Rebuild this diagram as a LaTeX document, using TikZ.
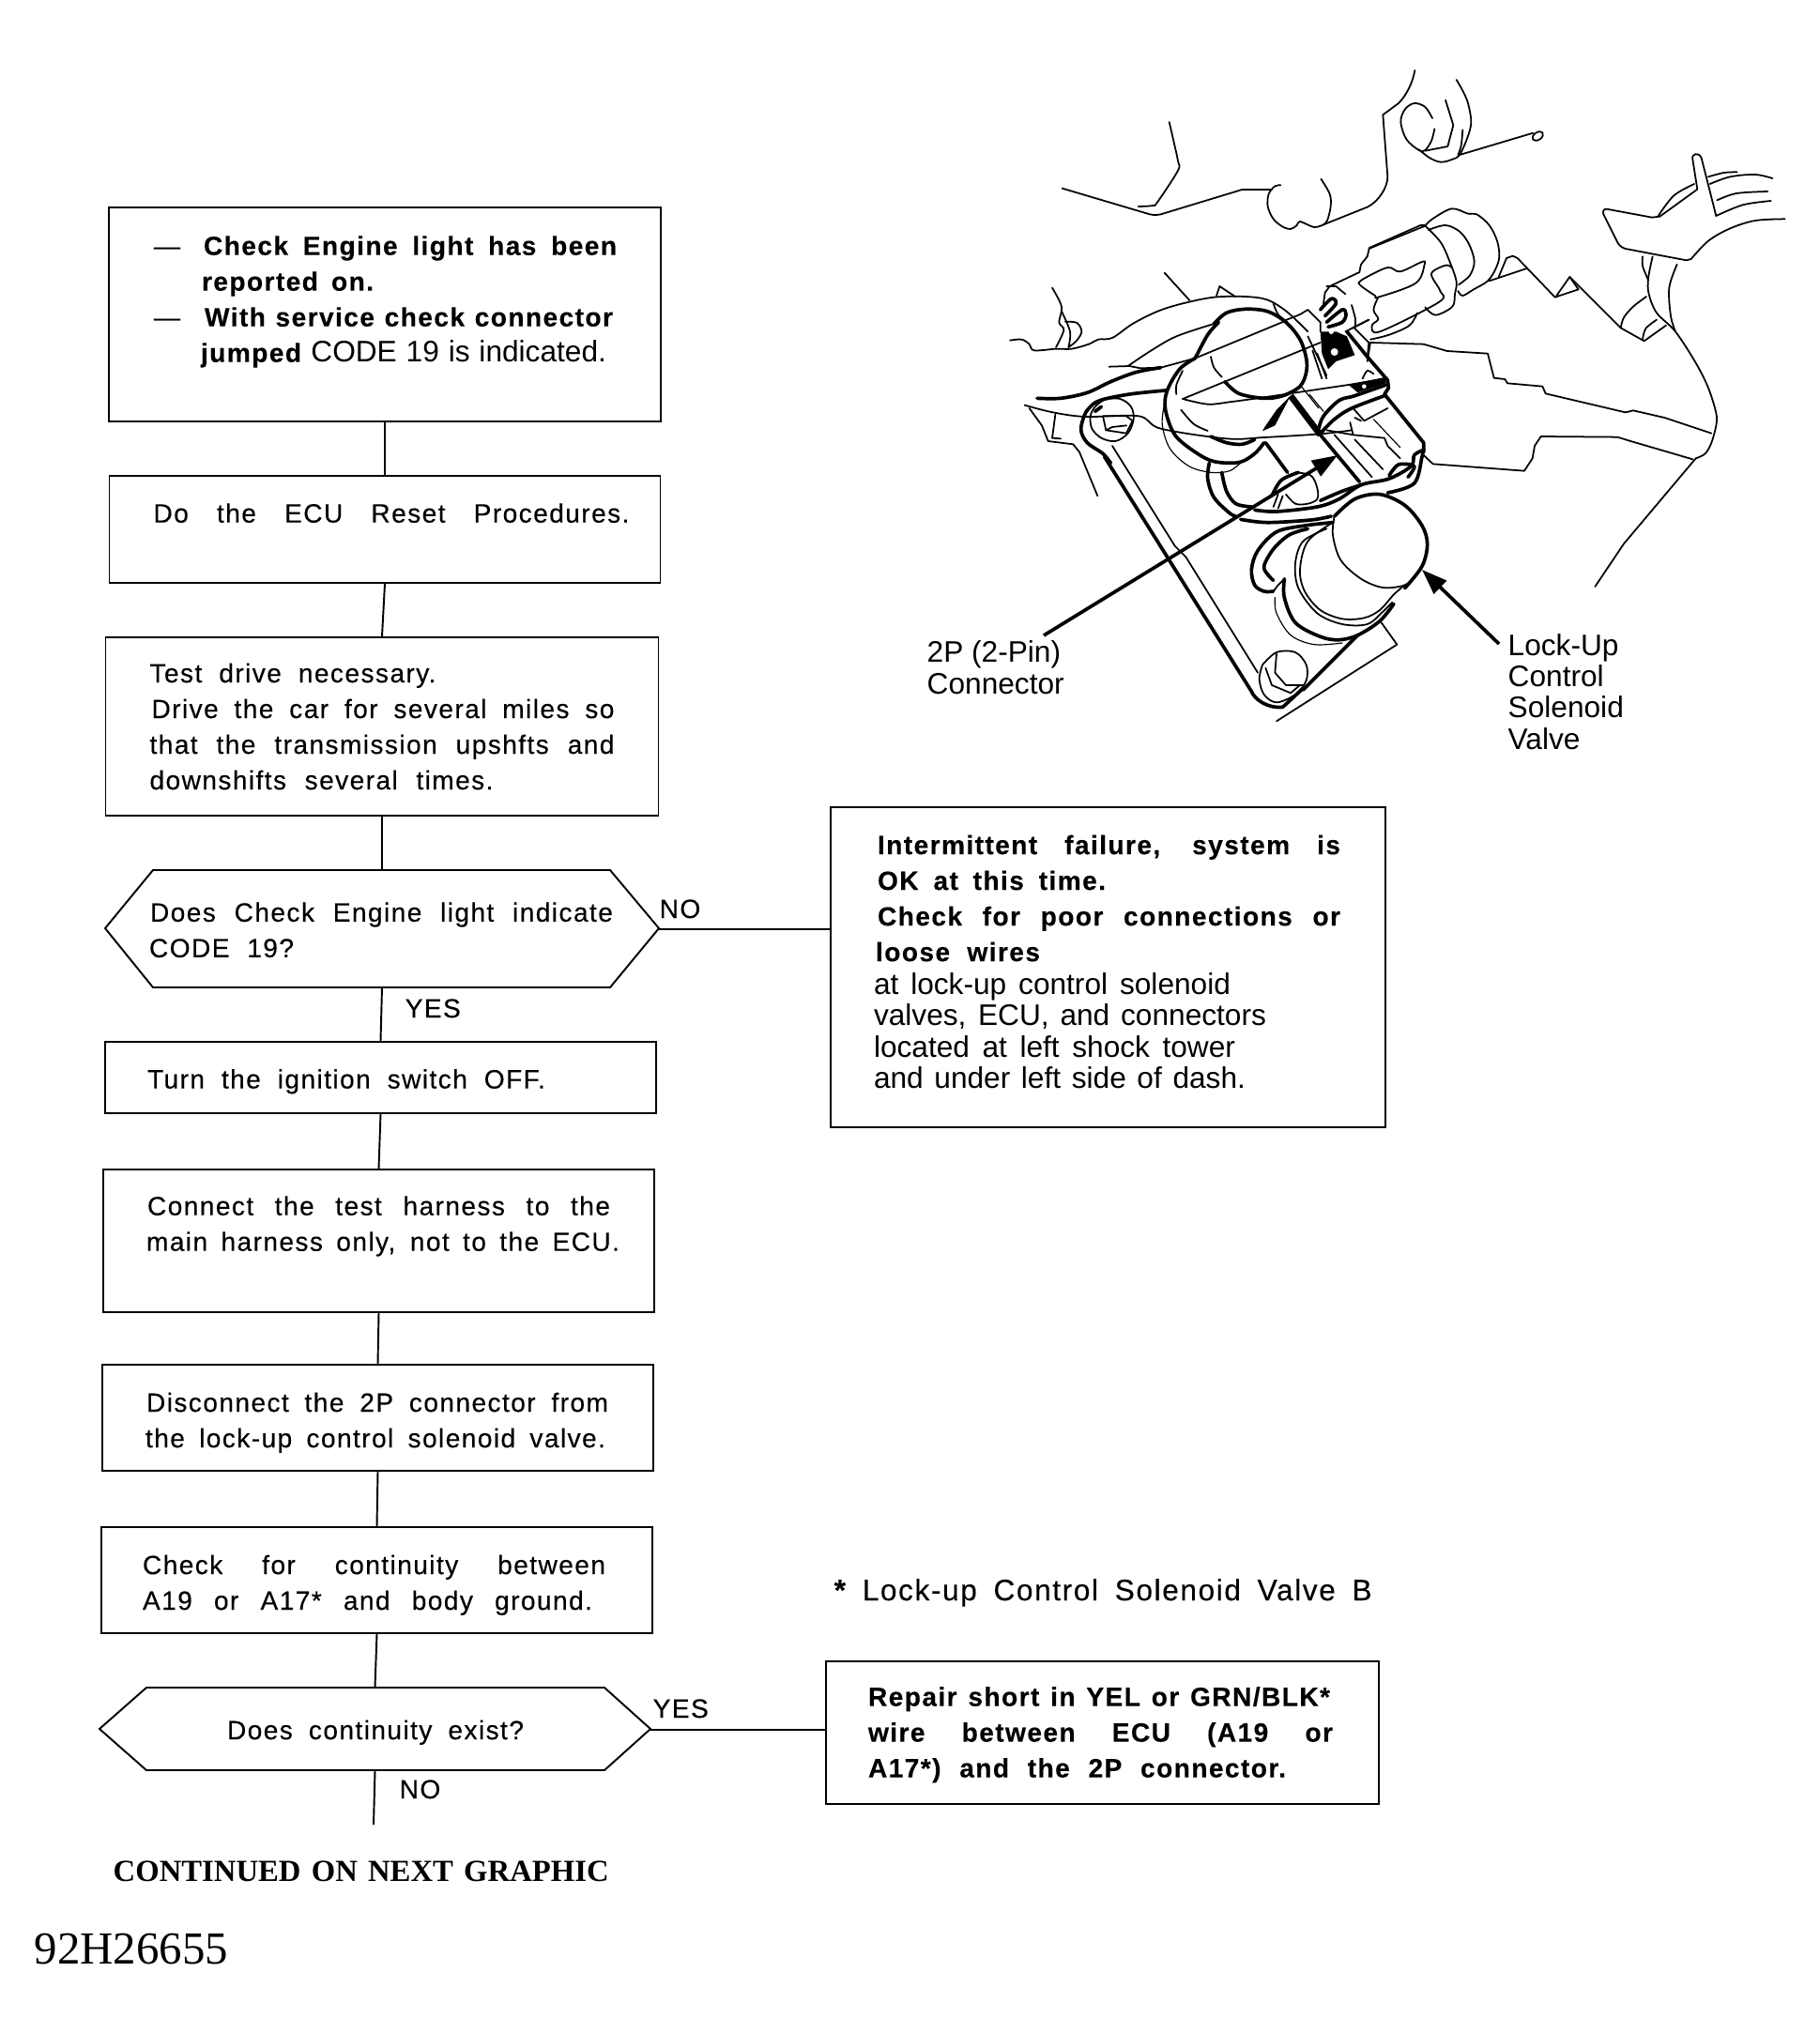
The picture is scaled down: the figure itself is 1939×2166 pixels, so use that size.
\documentclass[tikz,border=0pt]{standalone}
\usepackage{fontspec}
\usetikzlibrary{arrows.meta}
\setmainfont{Liberation Sans}[LetterSpace=5,FakeBold=0.25]
\newfontfamily\labfont{Liberation Sans}
\newfontfamily\serifbf{Liberation Serif}
\newlength\pxu \setlength\pxu{0.01cm}
\newcommand\tl[3]{\hspace*{#1\pxu}\makebox[#2\pxu][s]{\spaceskip=0pt\xspaceskip=0pt #3}}
\newcommand\botpad[1]{\rule[-\dimexpr 6\pxu+#1\pxu\relax]{0pt}{\dimexpr 6\pxu+#1\pxu\relax}}
\newcommand\toppad[1]{\rule{0pt}{\dimexpr 20\pxu+#1\pxu\relax}}
\newcommand\crv[2][medl]{\draw[#1] plot[smooth,tension=.55] coordinates {#2};}
\tikzset{
  flowfont/.style={font=\fontsize{8}{38\pxu}\selectfont},
  bx/.style 2 args={minimum width=#1\pxu,text width=#1\pxu,minimum height=#2\pxu},
  flowbox/.style={draw,line width=.55pt,inner sep=0pt,align=left,flowfont},
  hexbox/.style={inner sep=0pt,align=left,flowfont},
  hexline/.style={line width=.55pt,line join=miter},
  conn/.style={line width=.55pt},
  flag/.style={inner sep=0pt,anchor=base west,flowfont},
  callout/.style={inner sep=0pt,anchor=base west,align=left,font=\labfont\fontsize{9}{33.3\pxu}\selectfont},
  leader/.style={line width=1.05pt,-{Triangle[length=7.7pt,width=5.4pt]}},
  thinl/.style={line width=.33pt,line cap=round,line join=round},
  medl/.style={line width=.5pt,line cap=round,line join=round},
  heavy/.style={line width=1.05pt,line cap=round,line join=round},
}
\begin{document}
\begin{tikzpicture}[x=0.01cm,y=-0.01cm]
\useasboundingbox (0,0) rectangle (1939,2166);

% ---------- flow boxes
\node[flowbox,bx={588}{228}] (b1) at (410,335) {%
\tl{48}{28}{—}\tl{25}{440}{\bfseries Check Engine light has been}\\
\tl{99}{183}{\bfseries reported on.}\\
\tl{48}{28}{—}\tl{26}{435}{\bfseries With service check connector}\\
\tl{98}{432}{\bfseries jumped {\labfont\mdseries\fontsize{9}{38\pxu}\selectfont CODE 19 is indicated.}}\botpad{27}};

\node[flowbox,bx={587}{114}] (b2) at (410,564) {%
\tl{47}{507}{Do the ECU Reset Procedures.}\botpad{29}};

\node[flowbox,bx={589}{190}] (b3) at (407,774) {\toppad{0}%
\tl{47}{305}{Test drive necessary.}\\
\tl{49}{493}{Drive the car for several miles so}\\
\tl{47}{495}{that the transmission upshfts and}\\
\tl{47}{366}{downshifts several times.}};

\node[hexbox,bx={590}{125}] (d1) at (407,989) {\toppad{4}%
\tl{48}{493}{Does Check Engine light indicate}\\
\tl{47}{154}{CODE 19?}};
\draw[hexline] (112,989) -- (163,927) -- (650,927) -- (702,989) -- (650,1052) -- (163,1052) -- cycle;

\node[flowbox,bx={587}{76}] (b4) at (405.5,1148) {\toppad{9}%
\tl{45}{424}{Turn the ignition switch OFF.}};

\node[flowbox,bx={587}{152}] (b5) at (403.5,1322) {%
\tl{47}{493}{Connect the test harness to the}\\
\tl{46}{504}{main harness only, not to the ECU.}\botpad{31}};

\node[flowbox,bx={587}{113}] (b6) at (402.5,1510.5) {\toppad{11}%
\tl{47}{492}{Disconnect the 2P connector from}\\
\tl{46}{490}{the lock-up control solenoid valve.}};

\node[flowbox,bx={587}{113}] (b7) at (401.5,1683.5) {\toppad{11}%
\tl{44}{493}{Check for continuity between}\\
\tl{44}{479}{A19 or A17* and body ground.}};

\node[hexbox,bx={587}{88}] (d2) at (399.5,1842) {\toppad{8}%
\tl{136}{316}{Does continuity exist?}};
\draw[hexline] (106,1842) -- (156,1798) -- (644,1798) -- (693,1842) -- (644,1886) -- (156,1886) -- cycle;

\node[flowbox,bx={591}{341}] (bA) at (1180.5,1030.5) {%
\tl{50}{493}{\bfseries Intermittent failure, system is}\\
\tl{50}{243}{\bfseries OK at this time.}\\
\tl{50}{493}{\bfseries Check for poor connections or}\\
\tl{48}{175}{\bfseries loose wires}\par\vspace{2\pxu}
{\labfont\fontsize{9}{33.3\pxu}\selectfont
\tl{46}{380}{at lock-up control solenoid}\\
\tl{46}{418}{valves, ECU, and connectors}\\
\tl{46}{385}{located at left shock tower}\\
\tl{46}{396}{and under left side of dash.}\botpad{6}\par}};

\node[flowbox,bx={589}{152}] (bB) at (1174.5,1846) {\toppad{5}%
\tl{45}{492}{\bfseries Repair short in YEL or GRN/BLK*}\\
\tl{45}{495}{\bfseries wire between ECU (A19 or}\\
\tl{45}{445}{\bfseries A17*) and the 2P connector.}};

% ---------- connectors
\coordinate (flowend) at (398,1944);
\draw[conn] (b1.south) -- (b2.north);
\draw[conn] (b2.south) -- (b3.north);
\draw[conn] (b3.south) -- (d1.north);
\draw[conn] (d1.south) -- (b4.north);
\draw[conn] (b4.south) -- (b5.north);
\draw[conn] (b5.south) -- (b6.north);
\draw[conn] (b6.south) -- (b7.north);
\draw[conn] (b7.south) -- (d2.north);
\draw[conn] (d2.south) -- (flowend);
\coordinate (d1e) at (702,990);
\coordinate (d2e) at (693,1843);
\draw[conn] (d1e) -- (d1e -| bA.west);
\draw[conn] (d2e) -- (d2e -| bB.west);

% ---------- flags and free text
\node[flag] (no1) at (702,978) {NO};
\node[flag] (yes1) at (431,1084) {YES};
\node[flag] (yes2) at (695,1830) {YES};
\node[flag] (no2) at (425,1916) {NO};
\node[flag,font=\fontsize{9}{38\pxu}\selectfont] (note) at (888,1705) {\makebox[573\pxu][s]{\bfseries* {\mdseries Lock-up Control Solenoid Valve B}}};
\node[flag,font=\serifbf\bfseries\fontsize{9.3}{30\pxu}\selectfont] (cont) at (120,2004) {\makebox[528\pxu][s]{CONTINUED ON NEXT GRAPHIC}};
\node[flag,font=\serifbf\fontsize{13.9}{50\pxu}\selectfont] (fig) at (36,2092) {92H26655};
\node[callout] (lab2p) at (987,739) {2P (2-Pin)\\Connector};
\node[callout] (labval) at (1606,798) {Lock-Up\\Control\\Solenoid\\Valve};

% ---------- leaders
\coordinate (p2start) at (1112,677);
\coordinate (p2tip) at (1425,485);
\coordinate (lvstart) at (1597,686);
\coordinate (lvtip) at (1515,607);
\draw[leader] (p2start) -- (p2tip);
\draw[leader] (lvstart) -- (lvtip);

% ---------- illustration, tile A coordinates
\begin{scope}[shift={(1060,60)},scale=0.33333]
\crv{(557,210)(572,275)(585,335)(585,365)(520,465)(505,477)(458,480)}
\draw[medl] (215,422) -- (495,505) .. controls (510,508) and (520,508) .. (530,505) -- (790,426) -- (885,426);
\crv{(913,412)(895,415)(875,440)(872,480)(890,520)(920,545)(945,552)(965,540)(975,528)(1020,546)(1050,538)}
\crv{(1042,392)(1070,440)(1073,480)(1062,525)(1050,538)}
\draw[medl] (1050,538) -- (1190,482) .. controls (1225,465) and (1255,420) .. (1255,385) -- (1240,187) -- (1290,150) .. controls (1315,125) and (1335,85) .. (1342,45);
% left mass
\crv{(48,908)(85,905)(110,920)(125,940)(195,935)(245,935)(300,920)(330,905)(375,900)(440,855)(520,815)(600,790)(700,770)(800,768)(870,778)(925,810)(970,850)(1000,880)}
\crv{(183,740)(213,800)(205,850)(220,875)(195,930)}
\crv{(213,815)(240,880)(235,930)}
\crv{(225,848)(262,852)(277,880)(260,910)(235,930)}
\draw[medl] (542,692) -- (622,780);
\draw[medl] (708,765) -- (718,735) -- (768,768);
\crv{(425,990)(500,940)(580,895)(700,855)}
\draw[medl] (365,992) -- (430,990) -- (465,997) -- (530,995) -- (640,965);
\crv[heavy]{(135,1093)(210,1093)(295,1075)(370,1040)(450,1010)(530,995)}
\draw[medl] (640,965) -- (930,845);
\draw[medl] (600,1095) -- (1040,915);
\crv{(600,1095)(680,1112)(750,1105)(860,1090)}
\draw[medl] (860,1090) -- (1130,1050) -- (1250,1030);
% big solenoid
\crv[heavy]{(700,855)(740,820)(800,808)(870,815)(930,850)(975,905)(995,965)(995,1010)(975,1055)(920,1085)(860,1093)(780,1078)(735,1040)}
\crv{(690,960)(700,995)(725,1025)}
\crv[heavy]{(715,850)(680,890)(640,965)}
\crv[heavy]{(640,965)(590,1000)(550,1070)(545,1130)(575,1210)(640,1265)(700,1295)(780,1298)(830,1270)(860,1235)}
\crv{(600,1005)(580,1050)(580,1080)}
\crv{(595,1130)(635,1175)(680,1197)}
\crv[thinl]{(540,1120)(535,1180)(560,1255)(620,1310)(690,1330)(750,1325)(790,1295)}
\crv[heavy]{(690,1215)(740,1235)(790,1240)(830,1225)}
% low lines
\crv{(95,1115)(185,1138)(290,1152)(460,1150)(530,1190)(740,1222)(860,1218)(1040,1207)(1140,1195)}
\draw[medl] (1060,1195) -- (1145,1210) -- (1245,1220) -- (1255,1245) -- (1295,1285);
\draw[medl] (110,1125) -- (150,1180) -- (170,1230) -- (250,1240) -- (270,1265) -- (328,1405);
\draw[medl] (193,1145) -- (183,1220) -- (210,1222);
% upper-left bracket and bolt
\crv[heavy]{(545,1068)(430,1080)(335,1100)(300,1125)(285,1150)(275,1195)(295,1235)(345,1270)(370,1300)}
\crv{(345,1095)(400,1095)(435,1120)(443,1160)(425,1205)(385,1230)(340,1220)(310,1190)(305,1150)(320,1120)(345,1100)}
\draw[medl] (345,1150) -- (355,1195) -- (420,1205) -- (440,1165) -- (420,1150) -- cycle;
\draw[medl] (355,1195) -- (375,1185) -- (420,1180);
\draw[heavy] (340,1120) -- (320,1135);
% bars
\draw[line width=1.9pt] (945,1085) -- (1040,1210);
\draw[heavy] (1040,1210) -- (1165,1360);
\draw[heavy] (865,1235) -- (935,1330);
\fill (945,1085) -- (895,1180) -- (855,1198) -- (862,1185) -- (900,1130) -- cycle;
% connector head
\fill (1040,880) -- (1090,880) -- (1125,895) -- (1150,955) -- (1090,975) -- (1065,1000) -- (1045,950) -- cycle;
\fill[white] (1085,945) circle (12);
\fill[white] (1075,880) circle (8);
\draw[heavy] (1125,880) -- (1190,960) -- (1255,1035) -- (1258,1060) -- (1245,1080) -- (1370,1235) -- (1370,1265);
\draw[medl] (1000,895) -- (1060,1020);
\draw[medl] (1015,940) -- (1045,1030);
\draw[medl] (1030,950) -- (1060,1030);
\crv[heavy]{(1035,1190)(1050,1150)(1100,1100)(1150,1085)(1250,1050)}
\crv[heavy]{(1045,1200)(1085,1160)(1140,1125)(1245,1085)}
\draw[medl] (1145,1125) -- (1180,1165) -- (1255,1125);
\draw[thinl] (1210,1160) -- (1295,1250);
\draw[medl] (1135,1170) -- (1145,1210);
\draw[medl] (1150,1155) -- (1170,1165);
\draw[thinl] (1005,1080) -- (1050,1135);
\draw[thinl] (975,1050) -- (1035,1125);
\draw[medl] (1085,1210) -- (1205,1345);
\draw[medl] (1150,1225) -- (1240,1320);
\fill (1130,1050) -- (1250,1025) -- (1250,1045) -- (1160,1075) -- cycle;
\fill[white] (1180,1055) circle (7);
\crv{(1175,1030)(1190,1005)(1210,1015)}
% plug
\draw[medl] (1375,540) -- (1360,540) -- (1197,612) -- (1190,640) -- (1170,665) -- (1165,690) -- (1070,735) -- (1055,755) -- (1050,790);
\draw[medl] (1060,735) -- (1090,735) -- (1120,760);
\crv[heavy]{(1040,810)(1075,775)(1090,790)(1055,830)}
\crv[heavy]{(1060,850)(1110,810)(1122,825)(1110,850)(1065,865)}
\crv{(1140,795)(1152,840)(1150,870)}
\draw[medl] (1195,842) -- (1120,880);
\draw[medl] (1150,870) -- (1195,915) -- (1190,965);
\draw[medl] (925,845) -- (975,825) -- (1000,810) -- (1040,850) -- (1040,880);
\crv{(890,790)(905,825)(935,850)}
\end{scope}

% ---------- illustration, tile B coordinates
\begin{scope}[shift={(1440,100)},scale=0.33333]
\crv{(258,78)(235,42)(200,30)(170,50)(157,90)(175,145)(215,180)(235,180)(255,150)(265,112)}
\crv{(215,178)(250,205)(285,218)(320,210)(345,195)(370,140)(382,90)(372,30)(355,-10)(335,-45)}
\draw[medl] (300,20) -- (325,100) -- (307,168) -- (235,182);
\crv{(355,115)(350,165)(340,195)}
\draw[medl] (345,195) -- (580,125);
\draw[medl,rotate around={35:(595,135)}] (595,135) ellipse (19 and 12);
% plug
\crv{(235,422)(258,400)(320,367)(372,383)(400,385)(440,420)(465,470)(472,520)(460,560)(435,598)(390,625)(355,645)(340,630)}
\crv{(245,435)(300,420)(345,440)(375,480)(392,535)(378,580)(342,610)}
\crv{(235,422)(285,475)(315,540)(335,600)(330,640)(322,680)(268,707)(235,682)}
\draw[medl] (235,422) -- (55,495);
\crv{(22,605)(40,590)(115,555)(155,568)(225,537)(233,545)(205,605)(85,650)(75,645)(35,618)(22,605)}
\crv{(85,650)(70,690)(85,720)(65,740)(90,760)(280,665)(283,630)(255,575)(300,548)(320,555)}
\crv{(60,785)(120,770)(185,740)(210,700)}
\draw[medl] (55,722) -- (0,750);
\draw[medl] (60,795) -- (230,800) -- (305,822) -- (435,830) -- (455,908) -- (490,912) -- (498,925) -- (610,935) -- (620,958) -- (875,1018) -- (900,1012) -- (1000,1035) -- (1150,1085);
\draw[medl] (60,795) -- (50,855);
\draw[medl] (440,598) -- (560,558);
\draw[medl] (470,585) -- (495,525) -- (515,518) -- (530,525) -- (650,650) -- (725,625) -- (697,585) -- (655,645);
\draw[medl] (697,585) -- (860,748);
\crv{(860,748)(870,715)(900,680)(942,648)}
\draw[medl] (860,748) -- (935,790) -- (1005,740);
\crv{(930,785)(940,750)(975,722)}
% right bracket
\draw[medl] (1165,390) -- (1118,205) .. controls (1110,185) and (1085,190) .. (1090,210) -- (1105,305) -- (985,392) -- (960,395) -- (815,368) .. controls (805,368) and (802,375) .. (805,385) -- (850,475) .. controls (855,485) and (865,492) .. (875,495) -- (1070,532) -- (1085,528);
\crv{(1085,528)(1140,470)(1210,430)(1290,405)(1385,400)}
\crv{(980,390)(1030,325)(1095,288)}
\crv{(1140,265)(1190,252)(1232,250)}
\crv{(1145,288)(1210,265)(1290,258)(1345,270)}
\crv{(1168,340)(1230,318)(1330,312)}
\crv{(1165,390)(1250,355)(1340,342)}
\crv{(930,520)(930,550)(948,595)}
\crv{(962,520)(948,590)(950,640)(975,700)(1035,760)(1100,860)(1140,940)(1165,1020)(1165,1060)(1150,1115)(1130,1150)(1100,1165)}
\draw[medl] (1100,1165) -- (870,1438) -- (778,1575);
\crv{(1040,545)(1015,620)(1020,710)(1035,760)}
\draw[medl] (605,1095) -- (850,1097) -- (885,1108) -- (1090,1168);
\draw[medl] (605,1095) -- (585,1125) -- (578,1165) -- (552,1205) -- (260,1183) -- (230,1155);
\end{scope}

% ---------- illustration, tile C coordinates
\begin{scope}[shift={(1060,400)},scale=0.33333]
\draw[heavy] (350,260) -- (820,1010) .. controls (830,1035) and (870,1065) .. (920,1060) -- (985,1000);
\draw[medl] (375,225) -- (575,545) -- (610,580) -- (840,950);
% harness
\crv[heavy]{(685,280)(680,330)(700,390)(750,440)(770,450)}
\crv[heavy]{(725,310)(740,370)(770,410)(820,420)}
\crv[heavy]{(830,430)(900,435)(1030,420)(1100,395)(1170,350)(1260,330)(1330,290)(1340,255)(1365,240)}
\crv[heavy]{(785,460)(870,470)(1010,462)(1075,450)}
\crv[heavy]{(1040,400)(1110,370)(1170,350)}
\crv[heavy]{(1255,375)(1340,345)(1365,260)(1370,235)}
\crv[heavy]{(1260,320)(1290,285)(1340,290)(1320,325)}
\crv{(960,310)(1010,320)(1030,360)(1030,395)(1000,410)(960,410)(930,380)}
\crv[heavy]{(885,385)(915,335)(970,310)}
\draw[medl] (890,420) -- (905,380);
\draw[medl] (905,425) -- (920,385);
% lower solenoid
\crv[heavy]{(1085,450)(1150,395)(1230,380)(1310,415)(1365,480)(1382,540)(1365,610)(1310,680)}
\crv{(1085,450)(1080,510)(1105,590)(1170,650)(1240,678)(1310,670)(1345,640)}
\crv{(1080,470)(1000,530)(975,620)(990,690)(1040,750)(1110,778)(1180,775)(1230,750)(1275,700)(1310,670)}
\crv{(1060,490)(985,530)(960,600)(970,680)(1030,760)(1110,795)(1190,795)(1240,755)(1270,725)}
\crv[heavy]{(925,650)(925,710)(960,790)(1040,835)(1100,845)(1160,830)(1230,785)(1275,730)}
\crv[thinl]{(895,710)(900,760)(945,830)(1020,860)(1110,855)}
\crv[heavy]{(1080,470)(990,480)(900,500)(840,560)(820,620)(830,670)(860,690)(890,690)}
\crv[heavy]{(1000,490)(940,510)(890,555)(860,610)(875,640)(890,655)}
\draw[medl] (890,690) -- (905,670) -- (925,650);
% lower bracket and bolt
\draw[medl] (1235,790) -- (1285,860) -- (900,1105);
\draw[heavy] (1160,830) -- (985,1005);
\crv{(855,925)(900,885)(960,885)(995,925)(995,975)(960,1020)(900,1045)(860,1020)(845,970)(855,925)}
\draw[medl] (900,890) -- (895,950) -- (930,990) -- (985,990);
\draw[medl] (865,935) -- (885,990) -- (945,1015) -- (975,990);
\end{scope}
\end{tikzpicture}
\end{document}
